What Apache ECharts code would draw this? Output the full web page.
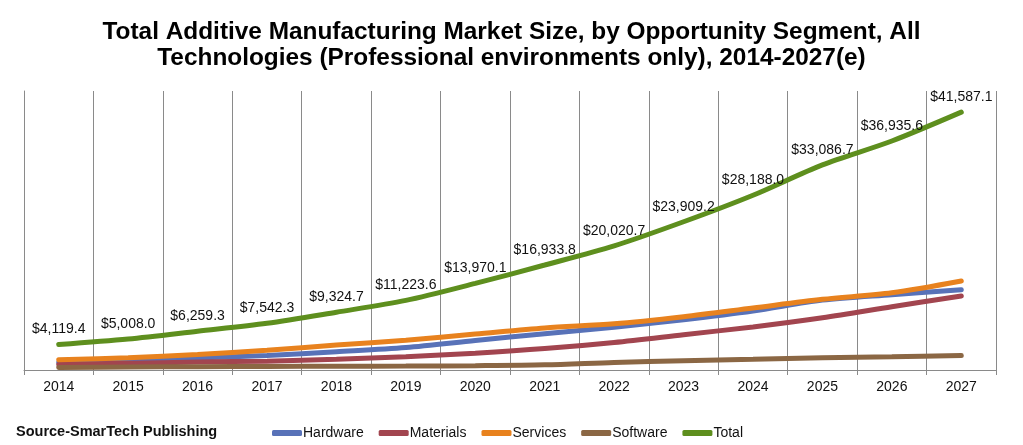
<!DOCTYPE html>
<html>
<head>
<meta charset="utf-8">
<script src="https://cdn.jsdelivr.net/npm/echarts@6/dist/echarts.min.js"></script>
<style>html,body{margin:0;padding:0;background:#fff;}#c{width:1023px;height:445px;}</style>
</head>
<body>
<div id="c"></div>
<script>
const years = ['2014','2015','2016','2017','2018','2019','2020','2021','2022','2023','2024','2025','2026','2027'];
const hardware  = [1220, 1480, 1920, 2352, 2955, 3624, 4755, 5850, 6900, 8100, 9500, 11270, 12150, 12950];
const materials = [870, 1080, 1290, 1430, 1740, 2150, 2720, 3460, 4450, 5700, 6950, 8430, 10200, 11950];
const services  = [1640, 1978, 2510, 3180, 4020, 4810, 5795, 6790, 7450, 8600, 10000, 11400, 12450, 14350];
const software  = [390, 470, 540, 580, 610, 640, 700, 834, 1221, 1509, 1738, 1987, 2136, 2337];
const total     = [4119.4, 5008.0, 6259.3, 7542.3, 9324.7, 11223.6, 13970.1, 16933.8, 20020.7, 23909.2, 28188.0, 33086.7, 36935.6, 41587.1];

const colors = {Hardware:'#5872B8', Materials:'#A2454F', Services:'#E8821E', Software:'#8B6744', Total:'#5E8F1E'};
const FONT = "'Liberation Sans', Arial, sans-serif";

function fmt(v){
  const s = v.toFixed(1).split('.');
  return '$' + s[0].replace(/\B(?=(\d{3})+(?!\d))/g, ',') + '.' + s[1];
}
function mk(name, data, extra){
  return Object.assign({
    name: name, type: 'line', data: data, smooth: 0.3,
    symbol: 'circle', symbolSize: 0.01, showSymbol: true,
    lineStyle: {width: 5, color: colors[name], cap: 'round'},
    itemStyle: {color: colors[name]}, z: 3
  }, extra || {});
}

const chart = echarts.init(document.getElementById('c'), null, {renderer: 'canvas'});
chart.setOption({
  animation: false,
  textStyle: {fontFamily: FONT},
  title: {
    text: 'Total Additive Manufacturing Market Size, by Opportunity Segment, All\nTechnologies (Professional environments only), 2014-2027(e)',
    left: 'center', top: 14,
    textStyle: {fontFamily: FONT, fontSize: 24.4, fontWeight: 'bold', color: '#000', lineHeight: 26}
  },
  grid: {left: 24, right: 27, top: 91, bottom: 75, containLabel: false},
  xAxis: {
    type: 'category', data: years, boundaryGap: true,
    axisLine: {show: true, lineStyle: {color: '#8a8a8a', width: 1}},
    axisTick: {show: true, length: 5, lineStyle: {color: '#8a8a8a'}},
    axisLabel: {fontSize: 14, color: '#111', margin: 10, fontFamily: FONT},
    splitLine: {show: true, lineStyle: {color: '#8a8a8a', width: 1}}
  },
  yAxis: {
    type: 'value', min: 0, max: 45000,
    axisLine: {show: true, lineStyle: {color: '#8a8a8a'}},
    axisTick: {show: false}, axisLabel: {show: false}, splitLine: {show: false}
  },
  legend: {
    left: 272, top: 426, padding: 0, itemWidth: 30, itemHeight: 6, itemGap: 15,
    icon: 'roundRect',
    textStyle: {fontSize: 14, color: '#111', fontFamily: FONT, padding: [0,0,0,-4]},
    data: ['Hardware','Materials','Services','Software','Total']
  },
  graphic: [{
    type: 'text', left: 16, top: 424,
    style: {text: 'Source-SmarTech Publishing', font: "bold 14.5px " + FONT, fill: '#111'}
  }],
  series: [
    mk('Hardware', hardware),
    mk('Materials', materials),
    mk('Services', services),
    mk('Software', software),
    mk('Total', total, {
      label: {show: true, position: 'top', distance: 8, fontSize: 14, color: '#111', fontFamily: FONT,
        formatter: p => fmt(p.value)}
    })
  ]
});
</script>
</body>
</html>
